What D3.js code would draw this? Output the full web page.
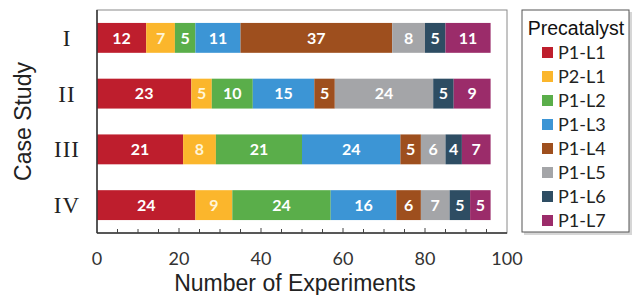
<!DOCTYPE html>
<html>
<head>
<meta charset="utf-8">
<script src="https://cdn.jsdelivr.net/npm/d3@7"></script>
<style>
  body { margin: 0; background: #fff; }
  svg { display: block; }
</style>
</head>
<body>
<svg width="632" height="295"></svg>
<script>
// data
const cases = ["I", "II", "III", "IV"];
const precatalysts = ["P1-L1", "P2-L1", "P1-L2", "P1-L3", "P1-L4", "P1-L5", "P1-L6", "P1-L7"];
const colors = ["#be1e2d", "#fbb62c", "#5aae4a", "#3c95d5", "#9e4f1e", "#a4a5a8", "#2e4d63", "#9b2c6a"];
const counts = [
  [12, 7, 5, 11, 37, 8, 5, 11],
  [23, 5, 10, 15, 5, 24, 5, 9],
  [21, 8, 21, 24, 5, 6, 4, 7],
  [24, 9, 24, 16, 6, 7, 5, 5]
];
const xTicks = [0, 20, 40, 60, 80, 100];

var svg = d3.select("svg");
const m = { left: 97, right: 507, top: 10, bottom: 233 };

var x = d3.scaleLinear().domain([0, 100]).range([m.left, m.right]);
var y = d3.scaleBand().domain(cases).range([m.top, m.bottom])
  .paddingInner(0.464).paddingOuter(0.232);
var color = d3.scaleOrdinal().domain(precatalysts).range(colors);

// plot frame
svg.append("rect")
  .attr("x", m.left).attr("y", m.top)
  .attr("width", m.right - m.left).attr("height", m.bottom - m.top)
  .attr("fill", "none").attr("stroke", "#8a8a8a").attr("stroke-width", 1);

// stacked segments
const rows = cases.map((c, i) => {
  let acc = 0;
  return counts[i].map((v, j) => {
    const seg = { c: c, k: precatalysts[j], v: v, x0: acc, x1: acc + v };
    acc += v;
    return seg;
  });
});

const rowG = svg.selectAll("g.row").data(rows).enter().append("g").attr("class", "row");

rowG.selectAll("rect")
  .data(d => d)
  .enter()
  .append("rect")
    .attr("x", d => x(d.x0))
    .attr("y", d => y(d.c))
    .attr("width", d => x(d.x1) - x(d.x0))
    .attr("height", y.bandwidth())
    .attr("fill", d => color(d.k));

rowG.selectAll("text")
  .data(d => d)
  .enter()
  .append("text")
    .attr("x", d => (x(d.x0) + x(d.x1)) / 2)
    .attr("y", d => y(d.c) + y.bandwidth() / 2)
    .attr("dy", "0.36em")
    .attr("text-anchor", "middle")
    .attr("font-family", "Lato, 'Open Sans', sans-serif")
    .attr("font-weight", "bold")
    .attr("font-size", 16)
    .attr("fill", d => d.k == "P2-L1" ? "#fff5d8" : "#fff")
    .text(d => d.v);

// left axis line
svg.append("line")
  .attr("x1", m.left).attr("x2", m.left)
  .attr("y1", m.top).attr("y2", m.bottom)
  .attr("stroke", "#333").attr("stroke-width", 1.5);

// bottom axis, ticks pointing inward
svg.append("line")
  .attr("x1", m.left).attr("x2", m.right)
  .attr("y1", m.bottom).attr("y2", m.bottom)
  .attr("stroke", "#333").attr("stroke-width", 1.5);

svg.selectAll("line.tick")
  .data(d3.range(5, 100, 5))
  .enter()
  .append("line")
    .attr("class", "tick")
    .attr("x1", d => x(d)).attr("x2", d => x(d))
    .attr("y1", m.bottom).attr("y2", d => m.bottom - (d % 20 == 0 ? 5 : 4))
    .attr("stroke", "#444").attr("stroke-width", 1);

svg.selectAll("text.xlab")
  .data(xTicks)
  .enter()
  .append("text")
    .attr("class", "xlab")
    .attr("x", d => x(d))
    .attr("y", 265)
    .attr("text-anchor", "middle")
    .attr("font-family", "Lato, 'Open Sans', sans-serif")
    .attr("font-size", 18)
    .attr("fill", "#333")
    .text(d => d);

// case labels
svg.selectAll("text.ylab")
  .data(cases)
  .enter()
  .append("text")
    .attr("class", "ylab")
    .attr("x", 67)
    .attr("y", d => y(d) + y.bandwidth() / 2)
    .attr("dy", "0.35em")
    .attr("text-anchor", "middle")
    .attr("font-family", "'Liberation Serif', 'DejaVu Serif', serif")
    .attr("font-size", 23)
    .attr("letter-spacing", 1)
    .attr("fill", "#222")
    .text(d => d);

// axis titles
svg.append("text")
  .attr("x", 295).attr("y", 291)
  .attr("text-anchor", "middle")
  .attr("font-family", "'Liberation Sans', Arial, sans-serif")
  .attr("font-size", 23)
  .attr("fill", "#222")
  .text("Number of Experiments");

svg.append("text")
  .attr("transform", "translate(31," + (m.top + m.bottom) / 2 + ") rotate(-90)")
  .attr("text-anchor", "middle")
  .attr("font-family", "'Liberation Sans', Arial, sans-serif")
  .attr("font-size", 23)
  .attr("fill", "#222")
  .text("Case Study");

// legend
const lg = svg.append("g");
lg.append("rect")
  .attr("x", 524).attr("y", 12).attr("width", 108).attr("height", 223)
  .attr("fill", "#d6d6d6");
lg.append("rect")
  .attr("x", 522).attr("y", 10).attr("width", 107).attr("height", 222)
  .attr("fill", "#fff").attr("stroke", "#555").attr("stroke-width", 1);
lg.append("text")
  .attr("x", 576).attr("y", 35)
  .attr("text-anchor", "middle")
  .attr("font-family", "'Liberation Sans', Arial, sans-serif")
  .attr("font-size", 19.5)
  .attr("fill", "#111")
  .text("Precatalyst");

const item = lg.selectAll("g.item")
  .data(precatalysts)
  .enter()
  .append("g")
    .attr("class", "item")
    .attr("transform", (d, i) => "translate(542," + (52 + i * 24) + ")");
item.append("rect")
  .attr("x", 0).attr("y", -5).attr("width", 11).attr("height", 11)
  .attr("fill", d => color(d));
item.append("text")
  .attr("x", 16).attr("y", 0).attr("dy", "0.38em")
  .attr("font-family", "Lato, 'Open Sans', sans-serif")
  .attr("font-size", 18)
  .attr("fill", "#222")
  .text(d => d);
</script>
</body>
</html>
